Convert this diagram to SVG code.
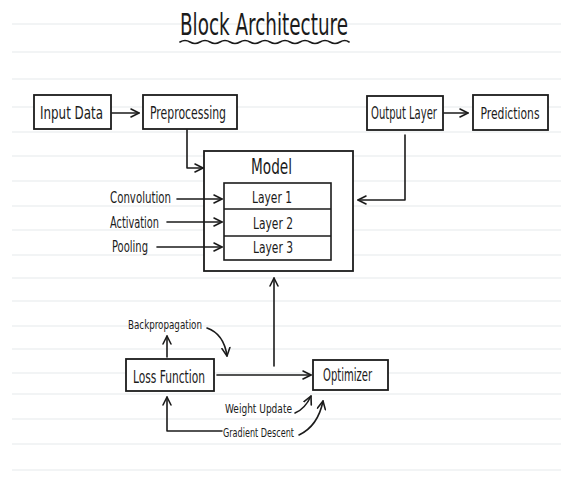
<svg xmlns="http://www.w3.org/2000/svg" width="561" height="488" viewBox="0 0 561 488">
  <defs>
    <marker id="arrow" viewBox="0 0 10 10" refX="9" refY="5" markerWidth="10" markerHeight="10" markerUnits="userSpaceOnUse" orient="auto">
      <path d="M1,1 L9,5 L1,9" fill="none" stroke="#1b1b1b" stroke-width="1.6" stroke-linecap="round" stroke-linejoin="round"/>
    </marker>
  </defs>
  <style>
    .rule { stroke: #e5e9ec; stroke-width: 1.2; }
    .box { fill: #ffffff; stroke: #1b1b1b; stroke-width: 1.8; }
    .inner { fill: none; stroke: #1b1b1b; stroke-width: 1.6; }
    .wire { fill: none; stroke: #1b1b1b; stroke-width: 1.6; stroke-linecap: round; stroke-linejoin: round; }
    .arrowed { marker-end: url(#arrow); }
    text { font-family: "DejaVu Sans Condensed", "Liberation Sans Narrow", "Liberation Sans", sans-serif; fill: #1b1b1b; }
    .lbl { font-size: 18px; }
    .side { font-size: 16px; }
    .small { font-size: 13px; }
    .mid { text-anchor: middle; }
  </style>

  <rect width="561" height="488" fill="#ffffff"/>

  <!-- ruled paper -->
  <g id="rules">
    <line class="rule" x1="12" y1="24" x2="561" y2="24"/>
    <line class="rule" x1="12" y1="52" x2="561" y2="52"/>
    <line class="rule" x1="12" y1="79" x2="561" y2="79"/>
    <line class="rule" x1="12" y1="107" x2="561" y2="107"/>
    <line class="rule" x1="12" y1="132" x2="561" y2="132"/>
    <line class="rule" x1="12" y1="156" x2="561" y2="156"/>
    <line class="rule" x1="12" y1="181" x2="561" y2="181"/>
    <line class="rule" x1="12" y1="206" x2="561" y2="206"/>
    <line class="rule" x1="12" y1="230" x2="561" y2="230"/>
    <line class="rule" x1="12" y1="255" x2="561" y2="255"/>
    <line class="rule" x1="12" y1="278" x2="561" y2="278"/>
    <line class="rule" x1="12" y1="301" x2="561" y2="301"/>
    <line class="rule" x1="12" y1="326" x2="561" y2="326"/>
    <line class="rule" x1="12" y1="349" x2="561" y2="349"/>
    <line class="rule" x1="12" y1="373" x2="561" y2="373"/>
    <line class="rule" x1="12" y1="394" x2="561" y2="394"/>
    <line class="rule" x1="12" y1="419" x2="561" y2="419"/>
    <line class="rule" x1="12" y1="444" x2="561" y2="444"/>
    <line class="rule" x1="12" y1="470" x2="561" y2="470"/>
  </g>

  <!-- title -->
  <g id="title">
    <text x="180" y="35" font-size="30" textLength="168" lengthAdjust="spacingAndGlyphs">Block Architecture</text>
    <path class="wire" d="M180,42 q5,-3 10,0 t10,0 t10,0 t10,0 t10,0 t10,0 t10,0 t10,0 t10,0 t10,0 t10,0 t10,0 t10,0 t10,0 t10,0 t10,0 t9,0"/>
  </g>

  <!-- nodes -->
  <g id="input-data">
    <rect class="box" x="34" y="95" width="77" height="34"/>
    <text class="lbl" x="40" y="119" textLength="63" lengthAdjust="spacingAndGlyphs">Input Data</text>
  </g>
  <g id="preprocessing">
    <rect class="box" x="143" y="95" width="94" height="34"/>
    <text class="lbl" x="150" y="119" textLength="76" lengthAdjust="spacingAndGlyphs">Preprocessing</text>
  </g>
  <g id="output-layer">
    <rect class="box" x="367" y="96" width="76" height="34"/>
    <text class="lbl" x="371" y="119" textLength="66" lengthAdjust="spacingAndGlyphs">Output Layer</text>
  </g>
  <g id="predictions">
    <rect class="box" x="473" y="95" width="75" height="35"/>
    <text class="mid" x="510" y="119" font-size="15" textLength="59" lengthAdjust="spacingAndGlyphs">Predictions</text>
  </g>

  <g id="model">
    <rect class="box" x="204" y="151" width="149" height="120"/>
    <text x="251" y="174" font-size="21" textLength="41" lengthAdjust="spacingAndGlyphs">Model</text>
    <rect class="inner" x="224" y="183" width="107" height="77"/>
    <line class="inner" x1="224" y1="209" x2="331" y2="209"/>
    <line class="inner" x1="224" y1="236" x2="331" y2="236"/>
  </g>
  <g id="layer-1">
    <text class="side" x="252" y="203" textLength="40" lengthAdjust="spacingAndGlyphs">Layer 1</text>
  </g>
  <g id="layer-2">
    <text class="side" x="253" y="229" textLength="40" lengthAdjust="spacingAndGlyphs">Layer 2</text>
  </g>
  <g id="layer-3">
    <text class="side" x="253" y="253" textLength="40" lengthAdjust="spacingAndGlyphs">Layer 3</text>
  </g>

  <g id="convolution">
    <text class="side" x="110" y="203" textLength="61" lengthAdjust="spacingAndGlyphs">Convolution</text>
  </g>
  <g id="activation">
    <text class="side" x="110" y="228" textLength="49" lengthAdjust="spacingAndGlyphs">Activation</text>
  </g>
  <g id="pooling">
    <text class="side" x="112" y="252" textLength="36" lengthAdjust="spacingAndGlyphs">Pooling</text>
  </g>

  <g id="loss-function">
    <rect class="box" x="126" y="359" width="88" height="32"/>
    <text class="lbl" x="133" y="383" textLength="72" lengthAdjust="spacingAndGlyphs">Loss Function</text>
  </g>
  <g id="optimizer">
    <rect class="box" x="313" y="360" width="75" height="30"/>
    <text class="lbl" x="323" y="381" textLength="49" lengthAdjust="spacingAndGlyphs">Optimizer</text>
  </g>

  <g id="backpropagation">
    <text class="small" x="128" y="329" textLength="74" lengthAdjust="spacingAndGlyphs">Backpropagation</text>
  </g>
  <g id="weight-update">
    <text class="small" x="225" y="413" textLength="67" lengthAdjust="spacingAndGlyphs">Weight Update</text>
  </g>
  <g id="gradient-descent">
    <text class="small" x="223" y="437" textLength="71" lengthAdjust="spacingAndGlyphs">Gradient Descent</text>
  </g>

  <!-- connectors, drawn last so the arrows into the model stay visible -->
  <g id="connectors">
    <path class="wire arrowed" d="M112,113 H139"/>
    <path class="wire arrowed" d="M444,113 H468"/>
    <path class="wire arrowed" d="M187,130 V168 H203"/>
    <path class="wire arrowed" d="M405,135 V200 H358"/>
    <path class="wire arrowed" d="M177,199 H222"/>
    <path class="wire arrowed" d="M167,222 H222"/>
    <path class="wire arrowed" d="M157,247 H222"/>
    <path class="wire arrowed" d="M217,375 H311"/>
    <path class="wire arrowed" d="M274,366 V278"/>
    <path class="wire arrowed" d="M167,357 V336"/>
    <path class="wire arrowed" d="M207,328 Q224,334 227,356"/>
    <path class="wire arrowed" d="M295,413 Q305,409 311,396"/>
    <path class="wire arrowed" d="M299,435 Q318,426 323,401"/>
    <path class="wire arrowed" d="M222,431 H167 V397"/>
  </g>
</svg>
